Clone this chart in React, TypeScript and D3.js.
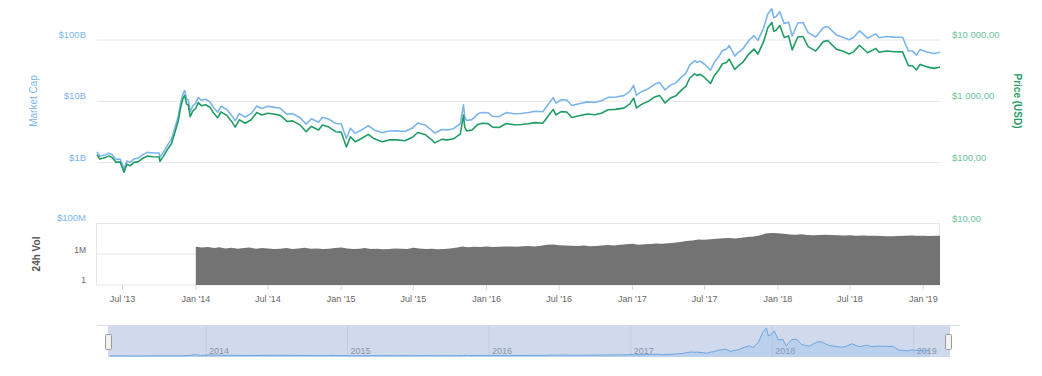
import React from 'react';
import * as d3 from 'd3';

// ---- Data ----
const dates = [
  "2013-04-28","2013-05-05","2013-05-12","2013-05-20","2013-05-28","2013-06-05","2013-06-15","2013-06-25","2013-07-05","2013-07-12",
  "2013-07-20","2013-07-30","2013-08-10","2013-08-20","2013-09-01","2013-09-15","2013-10-01","2013-10-03","2013-10-12","2013-10-22",
  "2013-11-01","2013-11-10","2013-11-18","2013-11-24","2013-11-30","2013-12-04","2013-12-09","2013-12-13","2013-12-18","2013-12-24",
  "2014-01-01","2014-01-07","2014-01-15","2014-01-25","2014-02-05","2014-02-15","2014-02-25","2014-03-05","2014-03-20","2014-04-01",
  "2014-04-10","2014-04-20","2014-05-05","2014-05-20","2014-06-03","2014-06-15","2014-07-01","2014-07-15","2014-08-01","2014-08-18",
  "2014-09-01","2014-09-20","2014-10-05","2014-10-18","2014-11-05","2014-11-15","2014-12-01","2014-12-18","2015-01-01","2015-01-14",
  "2015-01-24","2015-02-05","2015-02-20","2015-03-10","2015-03-25","2015-04-14","2015-05-01","2015-05-20","2015-06-10","2015-06-30",
  "2015-07-12","2015-07-30","2015-08-18","2015-08-24","2015-09-10","2015-09-25","2015-10-10","2015-10-27","2015-11-04","2015-11-07",
  "2015-11-12","2015-11-25","2015-12-10","2015-12-20","2016-01-05","2016-01-16","2016-02-01","2016-02-20","2016-03-10","2016-03-28",
  "2016-04-15","2016-05-01","2016-05-21","2016-06-03","2016-06-16","2016-06-23","2016-07-06","2016-07-20","2016-08-02","2016-08-20",
  "2016-09-10","2016-09-28","2016-10-15","2016-11-01","2016-11-20","2016-12-10","2016-12-25","2017-01-04","2017-01-11","2017-01-25",
  "2017-02-10","2017-02-26","2017-03-10","2017-03-24","2017-04-05","2017-04-20","2017-05-05","2017-05-15","2017-05-25","2017-06-06",
  "2017-06-12","2017-06-20","2017-07-01","2017-07-16","2017-07-25","2017-08-05","2017-08-15","2017-08-25","2017-09-01","2017-09-15",
  "2017-09-22","2017-10-05","2017-10-20","2017-11-02","2017-11-12","2017-11-26","2017-12-07","2017-12-17","2017-12-22","2017-12-28",
  "2018-01-06","2018-01-17","2018-01-28","2018-02-06","2018-02-20","2018-03-05","2018-03-18","2018-04-06","2018-04-25","2018-05-06",
  "2018-05-28","2018-06-12","2018-06-29","2018-07-10","2018-07-25","2018-08-14","2018-09-04","2018-09-12","2018-10-01","2018-10-20",
  "2018-11-10","2018-11-20","2018-11-25","2018-12-05","2018-12-15","2018-12-24","2019-01-10","2019-01-28","2019-02-12"
];

const priceUSD = [
  135,115,118,122,129,121,101,103,70,94,
  89,101,104,117,128,125,124,105,128,165,
  205,320,480,800,1120,1250,900,880,560,690,
  770,950,850,880,810,640,540,670,590,470,
  380,500,440,500,660,600,640,620,590,470,
  480,410,320,390,340,410,380,320,315,180,
  265,220,245,290,245,220,235,235,228,262,
  310,288,230,210,240,235,245,295,600,380,
  330,340,420,440,433,380,375,435,415,418,
  430,450,440,570,740,600,680,670,545,580,
  620,605,640,730,740,775,900,1130,780,900,
  1000,1180,1250,940,1120,1230,1550,1750,2400,2800,
  2650,2750,2450,1950,2600,3200,4100,4300,4900,3300,
  3700,4300,5900,7100,5900,9300,16000,19300,13800,14500,
  17200,11000,11600,6900,11200,11400,7800,6600,9400,9800,
  7100,6600,5900,6400,8200,6200,7300,6300,6600,6450,
  6400,4500,3800,3800,3250,4000,3650,3450,3620
];

// market cap, billions of USD
const marketCapB = [
  1.50,1.28,1.31,1.35,1.43,1.35,1.13,1.15,0.79,1.06,
  1.01,1.15,1.19,1.34,1.47,1.44,1.44,1.22,1.49,1.93,
  2.42,3.79,5.70,9.5,13.4,15.0,10.8,10.6,6.75,8.35,
  9.35,11.6,10.4,10.8,9.9,7.85,6.65,8.3,7.35,5.9,
  4.8,6.3,5.55,6.35,8.4,7.65,8.3,8.05,7.7,6.15,
  6.3,5.4,4.25,5.2,4.55,5.5,5.1,4.35,4.3,2.47,
  3.64,3.03,3.38,4.02,3.41,3.07,3.29,3.3,3.22,3.72,
  4.42,4.12,3.3,3.03,3.48,3.42,3.58,4.33,8.8,5.6,
  4.86,5.03,6.25,6.55,6.5,5.7,5.64,6.56,6.28,6.35,
  6.57,6.9,6.77,8.8,11.5,9.35,10.6,10.5,8.56,9.13,
  9.8,9.6,10.2,11.6,11.8,12.4,14.4,18.2,12.6,14.5,
  16.1,19.1,20.3,15.3,18.2,20.0,25.3,28.5,39.2,45.8,
  43.4,45.1,40.2,32.1,42.8,52.7,67.6,71.0,81,54.6,
  61.3,71.4,98,118,98.4,155,268,323,231,243,
  289,185,195,116,189,193,132,112,159,166,
  121,112,101,110,141,107,126,109,114,111.5,
  111,78,66,66,56.6,69.8,63.7,60.2,63.2
];

const volDates = [
  "2014-01-01","2014-01-16","2014-02-01","2014-02-16","2014-03-01","2014-03-16","2014-04-01","2014-04-16","2014-05-01","2014-05-16","2014-06-01","2014-06-16",
  "2014-07-01","2014-07-16","2014-08-01","2014-08-16","2014-09-01","2014-09-16","2014-10-01","2014-10-16","2014-11-01","2014-11-16","2014-12-01","2014-12-16",
  "2015-01-01","2015-01-16","2015-02-01","2015-02-16","2015-03-01","2015-03-16","2015-04-01","2015-04-16","2015-05-01","2015-05-16","2015-06-01","2015-06-16",
  "2015-07-01","2015-07-16","2015-08-01","2015-08-16","2015-09-01","2015-09-16","2015-10-01","2015-10-16","2015-11-01","2015-11-16","2015-12-01","2015-12-16",
  "2016-01-01","2016-01-16","2016-02-01","2016-02-16","2016-03-01","2016-03-16","2016-04-01","2016-04-16","2016-05-01","2016-05-16","2016-06-01","2016-06-16",
  "2016-07-01","2016-07-16","2016-08-01","2016-08-16","2016-09-01","2016-09-16","2016-10-01","2016-10-16","2016-11-01","2016-11-16","2016-12-01","2016-12-16",
  "2017-01-01","2017-01-16","2017-02-01","2017-02-16","2017-03-01","2017-03-16","2017-04-01","2017-04-16","2017-05-01","2017-05-16","2017-06-01","2017-06-16",
  "2017-07-01","2017-07-16","2017-08-01","2017-08-16","2017-09-01","2017-09-16","2017-10-01","2017-10-16","2017-11-01","2017-11-16","2017-12-01","2017-12-16",
  "2018-01-01","2018-01-16","2018-02-01","2018-02-16","2018-03-01","2018-03-16","2018-04-01","2018-04-16","2018-05-01","2018-05-16","2018-06-01","2018-06-16",
  "2018-07-01","2018-07-16","2018-08-01","2018-08-16","2018-09-01","2018-09-16","2018-10-01","2018-10-16","2018-11-01","2018-11-16","2018-12-01","2018-12-16",
  "2019-01-01","2019-01-16","2019-02-01","2019-02-12"
];

// 24h volume, millions of USD
const volumeM = [
  2.9,2.6,2.8,2.4,2.7,2.3,2.5,2.2,2.4,2.6,2.2,2.4,2.3,2.1,2.2,2.4,2.1,2.3,2.5,2.2,2.3,2.1,2.2,2.4,
  2.6,2.3,2.1,2.2,2.4,2.1,2.2,2.0,2.1,2.3,2.2,2.1,2.5,2.3,2.1,2.2,2.0,2.1,2.3,2.5,3.1,2.7,2.9,2.8,
  3.0,2.8,2.9,3.1,3.0,2.9,3.2,3.3,3.1,3.4,3.9,4.1,3.7,3.5,3.4,3.3,3.5,3.2,3.3,3.5,3.8,3.6,3.9,4.2,
  4.6,4.0,4.2,4.4,4.8,4.6,5.0,5.4,6.0,6.8,7.5,8.6,8.2,8.8,9.5,10.2,10.8,9.9,11.0,12.4,13.5,15.5,21,23,
  22,20,18,17.5,18.5,17,16.5,17,17.5,16.8,16,15.6,16.2,15,15.5,14.8,15.2,14.5,14,13.8,14.5,15,15.5,14.8,
  15.2,14.6,14.9,15.1
];

const leftTicksB = [100, 10, 1];
const leftTickLabels = ["$100B", "$10B", "$1B"];
const rightTicks = [10000, 1000, 100, 10];
const rightTickLabels = ["$10 000,00", "$1 000,00", "$100,00", "$10,00"];
const volTicksLog = [8, 6, 0];
const volTickLabels = ["$100M", "1M", "1"];
const xTickDates = ["2013-07-01","2014-01-01","2014-07-01","2015-01-01","2015-07-01","2016-01-01","2016-07-01","2017-01-01","2017-07-01","2018-01-01","2018-07-01","2019-01-01"];
const xTickLabels = ["Jul '13","Jan '14","Jul '14","Jan '15","Jul '15","Jan '16","Jul '16","Jan '17","Jul '17","Jan '18","Jul '18","Jan '19"];
const navYears = ["2014-01-01","2015-01-01","2016-01-01","2017-01-01","2018-01-01","2019-01-01"];
const navYearLabels = ["2014","2015","2016","2017","2018","2019"];

const parse = d3.timeParse("%Y-%m-%d");

export default function App() {
  const W = 1042, H = 376;
  const font = "'Liberation Sans', Arial, sans-serif";
  const blue = "#7cb5ec";
  const green = "#1f9d63";

  const ds = dates.map(s => parse(s) as Date);
  const domain = [ds[0], ds[ds.length - 1]] as [Date, Date];

  const x = d3.scaleTime().domain(domain).range([97, 940]);
  const yPrice = d3.scaleLog().domain([10, 10000]).range([224, 40]);
  const yCap = d3.scaleLog().domain([0.1, 100]).range([224, 40]);
  const yVol = d3.scaleLinear().domain([0, 6, 8]).range([285, 254, 223]);

  const priceLine = d3.line<number>()
    .x((_, i) => x(ds[i]))
    .y(d => yPrice(d));
  const capLine = d3.line<number>()
    .x((_, i) => x(ds[i]))
    .y(d => yCap(d));

  const vds = volDates.map(s => parse(s) as Date);
  const volArea = d3.area<number>()
    .x((_, i) => x(vds[i]))
    .y0(285)
    .y1(d => yVol(Math.log10(d * 1e6)));

  // navigator
  const nx = d3.scaleTime().domain(domain).range([110, 930]);
  const ny = d3.scaleLinear().domain([0, d3.max(marketCapB) as number]).range([356, 328]);
  const navLine = d3.line<number>().x((_, i) => nx(ds[i])).y(d => ny(d));
  const navArea = d3.area<number>().x((_, i) => nx(ds[i])).y0(357).y1(d => ny(d));

  return (
    <svg width={W} height={H} style={{ position: 'absolute', left: 0, top: 0, background: '#fff' }} fontFamily={font}>
      <rect x={0} y={0} width={W} height={H} fill="#fff" />

      {/* main gridlines */}
      {rightTicks.slice(0, 3).map((t, i) => (
        <line key={'g' + i} x1={97} x2={940} y1={yPrice(t)} y2={yPrice(t)} stroke="#e6e6e6" strokeWidth={1} />
      ))}

      {/* left axis labels */}
      {leftTicksB.map((t, i) => (
        <text key={'l' + i} x={86} y={yCap(t) - 2} textAnchor="end" fontSize={9.5} fill={blue}>{leftTickLabels[i]}</text>
      ))}
      {/* right axis labels */}
      {rightTicks.map((t, i) => (
        <text key={'r' + i} x={952} y={yPrice(t) - 2} textAnchor="start" fontSize={9.5} fill="#6cc39d">{rightTickLabels[i]}</text>
      ))}

      <text transform="translate(37,101) rotate(-90)" textAnchor="middle" fontSize={10} fill={blue}>Market Cap</text>
      <text transform="translate(1014,101) rotate(90)" textAnchor="middle" fontSize={10} fontWeight="bold" fill={green}>Price (USD)</text>

      {/* volume pane */}
      <rect x={96.5} y={223.5} width={843} height={61.5} fill="none" stroke="#e6e6e6" />
      <line x1={97} x2={940} y1={yVol(6)} y2={yVol(6)} stroke="#e6e6e6" />
      <path d={volArea(volumeM) || ''} fill="#737373" />
      {volTicksLog.map((t, i) => (
        <text key={'v' + i} x={86} y={yVol(t) - (i === 1 ? 1 : 2)} textAnchor="end" fontSize={i === 0 ? 9.5 : 8.5} fill={i === 0 ? blue : '#666'}>{volTickLabels[i]}</text>
      ))}
      <text transform="translate(40,254) rotate(-90)" textAnchor="middle" fontSize={10} fontWeight="bold" fill="#555">24h Vol</text>

      {/* x axis */}
      {xTickDates.map((s, i) => {
        const xx = x(parse(s) as Date);
        return (
          <g key={'x' + i}>
            <line x1={xx} x2={xx} y1={285} y2={290} stroke="#ccd6eb" />
            <text x={xx} y={302} textAnchor="middle" fontSize={9} fill="#666">{xTickLabels[i]}</text>
          </g>
        );
      })}

      {/* series */}
      <path d={capLine(marketCapB) || ''} fill="none" stroke={blue} strokeWidth={1.6} strokeLinejoin="round" />
      <path d={priceLine(priceUSD) || ''} fill="none" stroke={green} strokeWidth={1.6} strokeLinejoin="round" />

      {/* navigator */}
      <rect x={108} y={326} width={842} height={31} fill="#d1daed" />
      {navYears.map((s, i) => {
        const xx = nx(parse(s) as Date);
        return (
          <g key={'n' + i}>
            <line x1={xx} x2={xx} y1={326} y2={357} stroke="#c2cbe0" strokeWidth={1} />
            <text x={xx + 3} y={354} fontSize={9} fill="#8a93a6">{navYearLabels[i]}</text>
          </g>
        );
      })}
      <path d={navArea(marketCapB) || ''} fill={blue} fillOpacity={0.25} />
      <path d={navLine(marketCapB) || ''} fill="none" stroke="#6aa6df" strokeWidth={1} />
      <line x1={97} x2={960} y1={325.5} y2={325.5} stroke="#d8dde6" />
      <rect x={105.5} y={334.5} width={6} height={15} rx={1} fill="#f2f2f2" stroke="#999" />
      <rect x={945.5} y={334.5} width={6} height={15} rx={1} fill="#f2f2f2" stroke="#999" />
    </svg>
  );
}
